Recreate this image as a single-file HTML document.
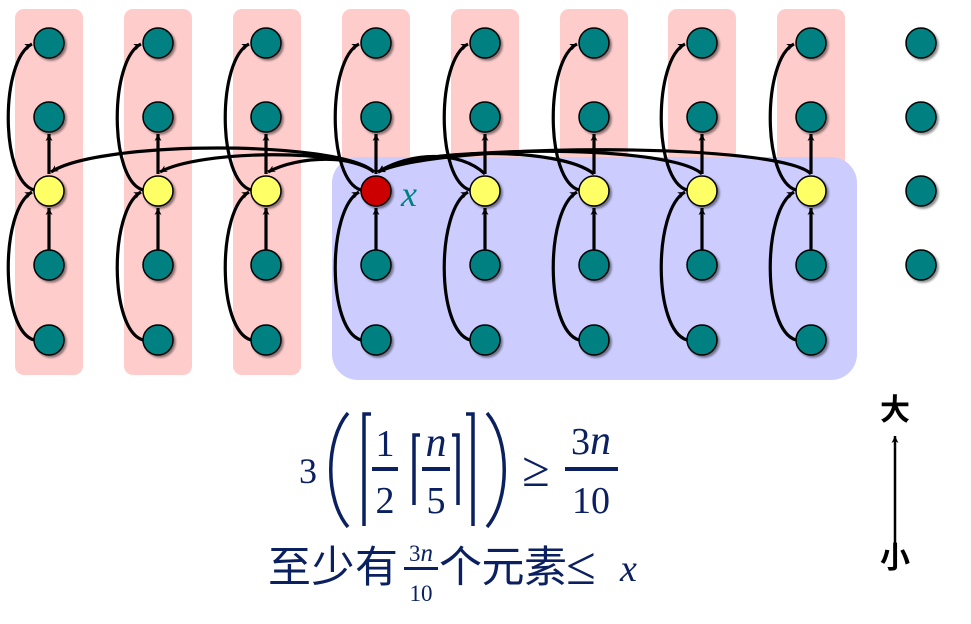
<!DOCTYPE html>
<html><head><meta charset="utf-8"><style>
body{margin:0;background:#fff;}
svg{display:block}
</style></head><body>
<svg width="971" height="624" viewBox="0 0 971 624" xmlns="http://www.w3.org/2000/svg">
<defs>
<marker id="ah" markerWidth="8" markerHeight="8" refX="7" refY="4" orient="auto" markerUnits="userSpaceOnUse">
<path d="M0,0.5 L7,4 L0,7.5 L2,4 z" fill="#000"/>
</marker>
<filter id="sh" x="-30%" y="-30%" width="170%" height="170%"><feDropShadow dx="2" dy="2" stdDeviation="1" flood-color="#000" flood-opacity="0.45"/></filter>
</defs>
<g fill="#ffcccc">
<rect x="15" y="9" width="68" height="366" rx="9"/>
<rect x="124" y="9" width="68" height="366" rx="9"/>
<rect x="233" y="9" width="68" height="366" rx="9"/>
<rect x="342" y="9" width="68" height="366" rx="9"/>
<rect x="451" y="9" width="68" height="366" rx="9"/>
<rect x="560" y="9" width="68" height="366" rx="9"/>
<rect x="668" y="9" width="68" height="366" rx="9"/>
<rect x="777" y="9" width="68" height="366" rx="9"/>
</g>
<rect x="332" y="157" width="525" height="223" rx="26" fill="#ccccff"/>
<g fill="none" stroke="#000" stroke-width="3.2" marker-end="url(#ah)">
<path d="M49,250 L49,208"/><path d="M49,174 L49,134"/>
<path d="M34,340 C0,330 0,210 32,192"/><path d="M34,190 C0,180 0,60 32,44"/>
<path d="M158,250 L158,208"/><path d="M158,174 L158,134"/>
<path d="M143,340 C109,330 109,210 141,192"/><path d="M143,190 C109,180 109,60 141,44"/>
<path d="M266,250 L266,208"/><path d="M266,174 L266,134"/>
<path d="M251,340 C217,330 217,210 249,192"/><path d="M251,190 C217,180 217,60 249,44"/>
<path d="M376,250 L376,208"/><path d="M376,174 L376,134"/>
<path d="M361,340 C327,330 327,210 359,192"/><path d="M361,190 C327,180 327,60 359,44"/>
<path d="M485,250 L485,208"/><path d="M485,174 L485,134"/>
<path d="M470,340 C436,330 436,210 468,192"/><path d="M470,190 C436,180 436,60 468,44"/>
<path d="M594,250 L594,208"/><path d="M594,174 L594,134"/>
<path d="M579,340 C545,330 545,210 577,192"/><path d="M579,190 C545,180 545,60 577,44"/>
<path d="M702,250 L702,208"/><path d="M702,174 L702,134"/>
<path d="M687,340 C653,330 653,210 685,192"/><path d="M687,190 C653,180 653,60 685,44"/>
<path d="M811,250 L811,208"/><path d="M811,174 L811,134"/>
<path d="M796,340 C762,330 762,210 794,192"/><path d="M796,190 C762,180 762,60 794,44"/>
<path d="M374,172 C340,140 100,140 51,172"/>
<path d="M374,172 C345,148 200,150 160,172"/>
<path d="M374,172 C355,155 300,155 268,172"/>
<path d="M485,174 C460,150 410,152 378,172"/>
<path d="M594,174 C560,146 420,148 378,172"/>
<path d="M702,174 C670,144 430,144 378,172"/>
<path d="M811,174 C780,142 440,142 378,172"/>
</g>
<g stroke="#000" stroke-width="1.5" filter="url(#sh)">
<g fill="#008080">
<circle cx="49" cy="43" r="15"/><circle cx="49" cy="117" r="15"/><circle cx="49" cy="265" r="15"/><circle cx="49" cy="340" r="15"/>
<circle cx="158" cy="43" r="15"/><circle cx="158" cy="117" r="15"/><circle cx="158" cy="265" r="15"/><circle cx="158" cy="340" r="15"/>
<circle cx="266" cy="43" r="15"/><circle cx="266" cy="117" r="15"/><circle cx="266" cy="265" r="15"/><circle cx="266" cy="340" r="15"/>
<circle cx="376" cy="43" r="15"/><circle cx="376" cy="117" r="15"/><circle cx="376" cy="265" r="15"/><circle cx="376" cy="340" r="15"/>
<circle cx="485" cy="43" r="15"/><circle cx="485" cy="117" r="15"/><circle cx="485" cy="265" r="15"/><circle cx="485" cy="340" r="15"/>
<circle cx="594" cy="43" r="15"/><circle cx="594" cy="117" r="15"/><circle cx="594" cy="265" r="15"/><circle cx="594" cy="340" r="15"/>
<circle cx="702" cy="43" r="15"/><circle cx="702" cy="117" r="15"/><circle cx="702" cy="265" r="15"/><circle cx="702" cy="340" r="15"/>
<circle cx="811" cy="43" r="15"/><circle cx="811" cy="117" r="15"/><circle cx="811" cy="265" r="15"/><circle cx="811" cy="340" r="15"/>
<circle cx="921" cy="43" r="15"/><circle cx="921" cy="117" r="15"/><circle cx="921" cy="191" r="15"/><circle cx="921" cy="265" r="15"/>
</g>
<g fill="#ffff66">
<circle cx="49" cy="191" r="15"/><circle cx="158" cy="191" r="15"/><circle cx="266" cy="191" r="15"/>
<circle cx="485" cy="191" r="15"/><circle cx="594" cy="191" r="15"/><circle cx="702" cy="191" r="15"/><circle cx="811" cy="191" r="15"/>
</g>
<circle cx="376" cy="191" r="15" fill="#cc0000"/>
</g>
<text x="401" y="206" font-family="Liberation Serif, serif" font-style="italic" font-size="36" fill="#008080">x</text>
<g fill="#0b2060" font-family="Liberation Serif, serif">
<text x="299" y="483" font-size="36">3</text>
<path d="M348,413 C325,440 325,500 348,527" stroke="#0b2060" stroke-width="3.5" fill="none"/>
<path d="M487,413 C510,440 510,500 487,527" stroke="#0b2060" stroke-width="3.5" fill="none"/>
<path d="M371,414 L364,414 L364,526" stroke="#0b2060" stroke-width="3.5" fill="none"/>
<path d="M466,414 L473,414 L473,526" stroke="#0b2060" stroke-width="3.5" fill="none"/>
<path d="M420,435 L414,435 L414,505" stroke="#0b2060" stroke-width="3.5" fill="none"/>
<path d="M452,435 L458,435 L458,505" stroke="#0b2060" stroke-width="3.5" fill="none"/>
<text x="385" y="456" font-size="38" text-anchor="middle">1</text>
<rect x="372" y="467" width="26" height="4"/>
<text x="385" y="513" font-size="38" text-anchor="middle">2</text>
<text x="436" y="456" font-size="42" font-style="italic" text-anchor="middle">n</text>
<rect x="422" y="467" width="28" height="4"/>
<text x="436" y="513" font-size="38" text-anchor="middle">5</text>
<text x="536" y="486" font-size="50" text-anchor="middle">≥</text>
<text x="591" y="454" font-size="38" text-anchor="middle">3<tspan font-style="italic" font-size="42">n</tspan></text>
<rect x="565" y="467" width="53" height="4"/>
<text x="591" y="513" font-size="38" text-anchor="middle">10</text>
<text x="268" y="582" font-size="43" font-family="Noto Sans CJK SC, sans-serif" textLength="130">至少有</text>
<text x="421" y="561" font-size="23" text-anchor="middle">3<tspan font-style="italic" font-size="25">n</tspan></text>
<rect x="404" y="567" width="34" height="3"/>
<text x="421" y="601" font-size="23" text-anchor="middle">10</text>
<text x="439" y="582" font-size="43" font-family="Noto Sans CJK SC, sans-serif" textLength="128">个元素</text>
<text x="566" y="584" font-size="54">≤</text>
<text x="620" y="581" font-size="38" font-style="italic">x</text>
</g>
<g font-family="Liberation Sans, Noto Sans CJK SC, sans-serif" font-weight="bold" font-size="30" fill="#000" text-anchor="middle">
<text x="895" y="420">大</text>
<text x="895" y="568">小</text>
</g>
<line x1="895" y1="545" x2="895" y2="436" stroke="#000" stroke-width="2.5" marker-end="url(#ah)"/>
</svg>
</body></html>
